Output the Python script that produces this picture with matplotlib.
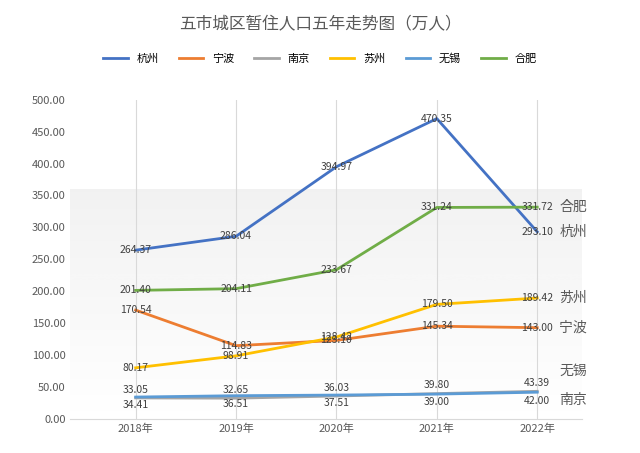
import matplotlib
matplotlib.use("Agg")
import matplotlib.pyplot as plt
import numpy as np

plt.rcParams['font.family'] = ['Noto Sans CJK SC', 'Noto Sans CJK JP', 'DejaVu Sans']

years = ['2018年', '2019年', '2020年', '2021年', '2022年']
hangzhou = [264.37, 286.04, 394.97, 470.35, 293.10]
ningbo = [170.54, 114.83, 123.10, 145.34, 143.00]
nanjing = [33.05, 32.65, 36.03, 39.80, 43.39]
suzhou = [80.17, 98.91, 128.42, 179.50, 189.42]
wuxi = [34.41, 36.51, 37.51, 39.00, 42.00]
hefei = [201.40, 204.11, 233.67, 331.24, 331.72]

series = [
    ('杭州', hangzhou, '#4472C4', 0),
    ('宁波', ningbo, '#ED7D31', 0),
    ('南京', nanjing, '#A5A5A5', 6),
    ('苏州', suzhou, '#FFC000', 0),
    ('无锡', wuxi, '#5B9BD5', -6),
    ('合肥', hefei, '#70AD47', 0),
]

fig = plt.figure(figsize=(6.4, 4.53), dpi=100)
ax = fig.add_axes([0.11, 0.075, 0.80, 0.705])
x = np.arange(len(years))
ax.set_xlim(-0.65, 4.45)
ax.set_ylim(0, 500)
grad = np.linspace(1, 0, 256).reshape(-1, 1)
ax.imshow(grad, extent=[-0.65, 4.45, 0, 360], aspect='auto', cmap='Greys',
          vmin=0, vmax=9, zorder=0)
for xi in x:
    ax.axvline(xi, color='#D9D9D9', lw=0.8, zorder=1)
for name, vals, c, dy in series:
    ax.plot(x, vals, color=c, lw=2, label=name, zorder=3)
    for xi, v in zip(x, vals):
        ax.annotate(f'{v:.2f}', (xi, v), xytext=(0, dy), textcoords='offset points',
                    ha='center', va='center', fontsize=7.5, color='#404040', zorder=4)
right = {'合肥': 331.72, '杭州': 293.10, '苏州': 189.42, '宁波': 143.0, '无锡': 75, '南京': 30}
for k, v in right.items():
    ax.text(4.22, v, k, fontsize=10, color='#595959', va='center', ha='left')
ax.set_xticks(x)
ax.set_xticklabels(years, fontsize=8, color='#595959')
ax.set_yticks(np.arange(0, 501, 50))
ax.set_yticklabels([f'{v:.2f}' for v in np.arange(0, 501, 50)], fontsize=8, color='#595959')
ax.tick_params(length=0)
for s in ['top', 'right', 'left']:
    ax.spines[s].set_visible(False)
ax.spines['bottom'].set_color('#D9D9D9')
fig.legend(loc='upper center', bbox_to_anchor=(0.5, 0.905), ncol=6, frameon=False,
           fontsize=8, handlelength=2.2, columnspacing=1.8)
fig.text(0.5, 0.945, '五市城区暂住人口五年走势图（万人）', ha='center', va='center',
         fontsize=12, color='#595959')
fig.savefig('out.png', dpi=100)
